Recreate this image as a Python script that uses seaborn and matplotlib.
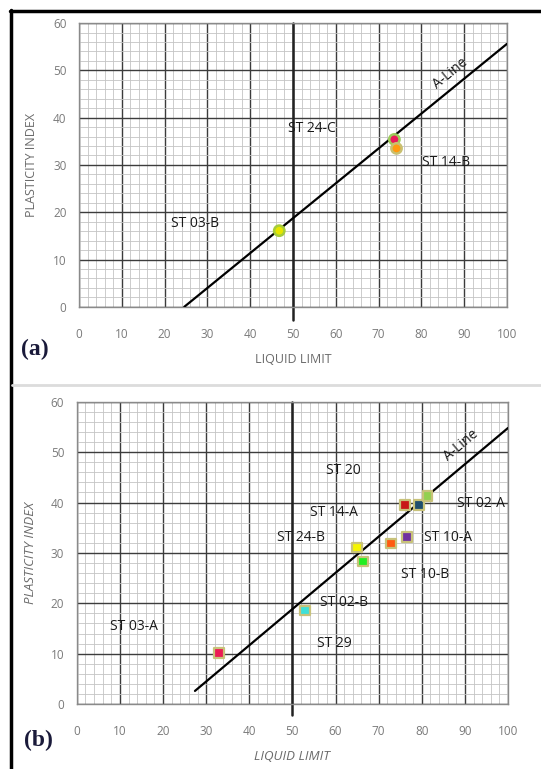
import numpy as np
import pandas as pd
import seaborn as sns
import matplotlib.pyplot as plt
from matplotlib.lines import Line2D

sns.set_style("white")
plt.rcParams['font.family'] = ['Open Sans', 'DejaVu Sans']

# --- panel (a) data ---
a_samples = ["ST 03-B", "ST 24-C", "ST 14-B"]
a_ll = [46.8, 73.7, 74.2]
a_pi = [16.1, 35.4, 33.5]
a_colors = ["#e6e600", "#ea1a5a", "#ff9a10"]
a_edges = ["#a6cc3a", "#9ccc5a", "#c9c070"]
a_line_ll = [24.6, 100.0]
a_line_pi = [0.0, 55.6]
a_labels = ["ST 03-B", "ST 24-C", "ST 14-B"]
a_label_x = [21.5, 48.8, 80.1]
a_label_y = [17.7, 37.8, 30.6]

# --- panel (b) data ---
b_samples = ["ST 03-A", "ST 29", "ST 24-B", "ST 02-B", "ST 10-B",
             "ST 14-A", "ST 10-A", "ST 20", "ST 02-A"]
b_ll = [33.0, 52.9, 65.0, 66.4, 72.9, 76.1, 76.6, 79.4, 81.3]
b_pi = [10.1, 18.6, 31.1, 28.3, 31.9, 39.5, 33.2, 39.5, 41.3]
b_colors = ["#ec1a55", "#3ee0d8", "#f5f500", "#22ee22", "#ff5a10",
            "#c81818", "#7030a0", "#1f4e6e", "#92d050"]
b_line_ll = [27.4, 100.0]
b_line_pi = [2.6, 54.8]
b_labels = ["ST 20", "ST 14-A", "ST 24-B", "ST 02-A", "ST 10-A",
            "ST 10-B", "ST 02-B", "ST 29", "ST 03-A"]
b_label_x = [57.9, 54.1, 46.5, 88.1, 80.5, 75.3, 56.4, 55.6, 7.7]
b_label_y = [46.3, 38.1, 33.1, 39.9, 33.0, 25.8, 20.2, 12.1, 15.4]

df_a = pd.DataFrame({"LL": a_ll, "PI": a_pi, "sample": a_samples})
df_b = pd.DataFrame({"LL": b_ll, "PI": b_pi, "sample": b_samples})

fig = plt.figure(figsize=(5.41, 7.69), dpi=100)
ax_a = fig.add_axes([0.146, 0.601, 0.791, 0.369])
ax_b = fig.add_axes([0.142, 0.0845, 0.797, 0.393])

LBL = 10
TXT = "#1a1a1a"


def style_chart(ax, ext):
    ax.set_xlim(0, 100)
    ax.set_ylim(0, 60)
    ax.set_xticks(np.arange(0, 101, 10))
    ax.set_yticks(np.arange(0, 61, 10))
    ax.set_xticks(np.arange(0, 101, 2), minor=True)
    ax.set_yticks(np.arange(0, 61, 2), minor=True)
    ax.grid(which="minor", color="#c4c4c4", lw=0.6)
    ax.grid(which="major", color="#3c3c3c", lw=1.0)
    ax.set_axisbelow(True)
    for s in ax.spines.values():
        s.set_color("#8a8a8a")
        s.set_linewidth(1.0)
    ax.tick_params(which="both", length=0)
    ax.tick_params(axis="y", pad=9, labelsize=8.5, labelcolor="#7a7a7a")
    ax.tick_params(axis="x", pad=15, labelsize=8.5, labelcolor="#7a7a7a")
    # thick divider at LL = 50
    ax.add_line(Line2D([50, 50], [ext, 60], color="#222222", lw=1.8, clip_on=False, zorder=2))


style_chart(ax_a, -2.7)
style_chart(ax_b, -2.2)

# A-lines
sns.lineplot(x=a_line_ll, y=a_line_pi, ax=ax_a, color="black", lw=1.6, zorder=3)
sns.lineplot(x=b_line_ll, y=b_line_pi, ax=ax_b, color="black", lw=1.6, zorder=3)

# points
sns.scatterplot(data=df_a, x="LL", y="PI", hue="sample", palette=a_colors,
                marker="o", s=55, linewidth=1.8, edgecolor=a_edges,
                legend=False, ax=ax_a, zorder=4)
sns.scatterplot(data=df_b, x="LL", y="PI", hue="sample", palette=b_colors,
                marker="s", s=48, linewidth=1.6, edgecolor="#c8c27a",
                legend=False, ax=ax_b, zorder=4)

ax_a.set_xlabel("LIQUID LIMIT", fontsize=9, color="#6a6a6a", labelpad=9)
ax_a.set_ylabel("PLASTICITY INDEX", fontsize=9, color="#6a6a6a", labelpad=11)
ax_b.set_xlabel("LIQUID LIMIT", fontsize=9.5, color="#6a6a6a", style="italic", labelpad=9)
ax_b.set_ylabel("PLASTICITY INDEX", fontsize=9.5, color="#6a6a6a", style="italic", labelpad=10)

# sample labels
for t, x, y in zip(a_labels, a_label_x, a_label_y):
    ax_a.text(x, y, t, fontsize=LBL, color=TXT, va="center", ha="left", zorder=5)
for t, x, y in zip(b_labels, b_label_x, b_label_y):
    ax_b.text(x, y, t, fontsize=LBL, color=TXT, va="center", ha="left", zorder=5)

# A-Line captions
ang_a = np.degrees(np.arctan2(a_line_pi[1] - a_line_pi[0], a_line_ll[1] - a_line_ll[0]))
ang_b = np.degrees(np.arctan2(b_line_pi[1] - b_line_pi[0], b_line_ll[1] - b_line_ll[0]))
ax_a.text(86.7, 49.3, "A-Line", fontsize=LBL, color=TXT, rotation=ang_a,
          transform_rotates_text=True, ha="center", va="center", rotation_mode="anchor")
ax_b.text(89.2, 51.3, "A-Line", fontsize=LBL, color=TXT, rotation=ang_b,
          transform_rotates_text=True, ha="center", va="center", rotation_mode="anchor")

# panel tags
fig.text(0.038, 1 - 349 / 769, "(a)", fontsize=17, fontweight="bold",
         family="Liberation Serif", color="#1a1a3a", va="center")
fig.text(0.044, 1 - 740 / 769, "(b)", fontsize=17, fontweight="bold",
         family="Liberation Serif", color="#1a1a3a", va="center")

# frame lines
fig.add_artist(Line2D([10 / 541, 1], [1 - 11 / 769] * 2, color="black", lw=2.5))
fig.add_artist(Line2D([11 / 541] * 2, [0, 1 - 10 / 769], color="black", lw=2.5))
fig.add_artist(Line2D([12 / 541, 1], [1 - 385 / 769] * 2, color="#dcdcdc", lw=2))

fig.savefig("out.png", dpi=100)
